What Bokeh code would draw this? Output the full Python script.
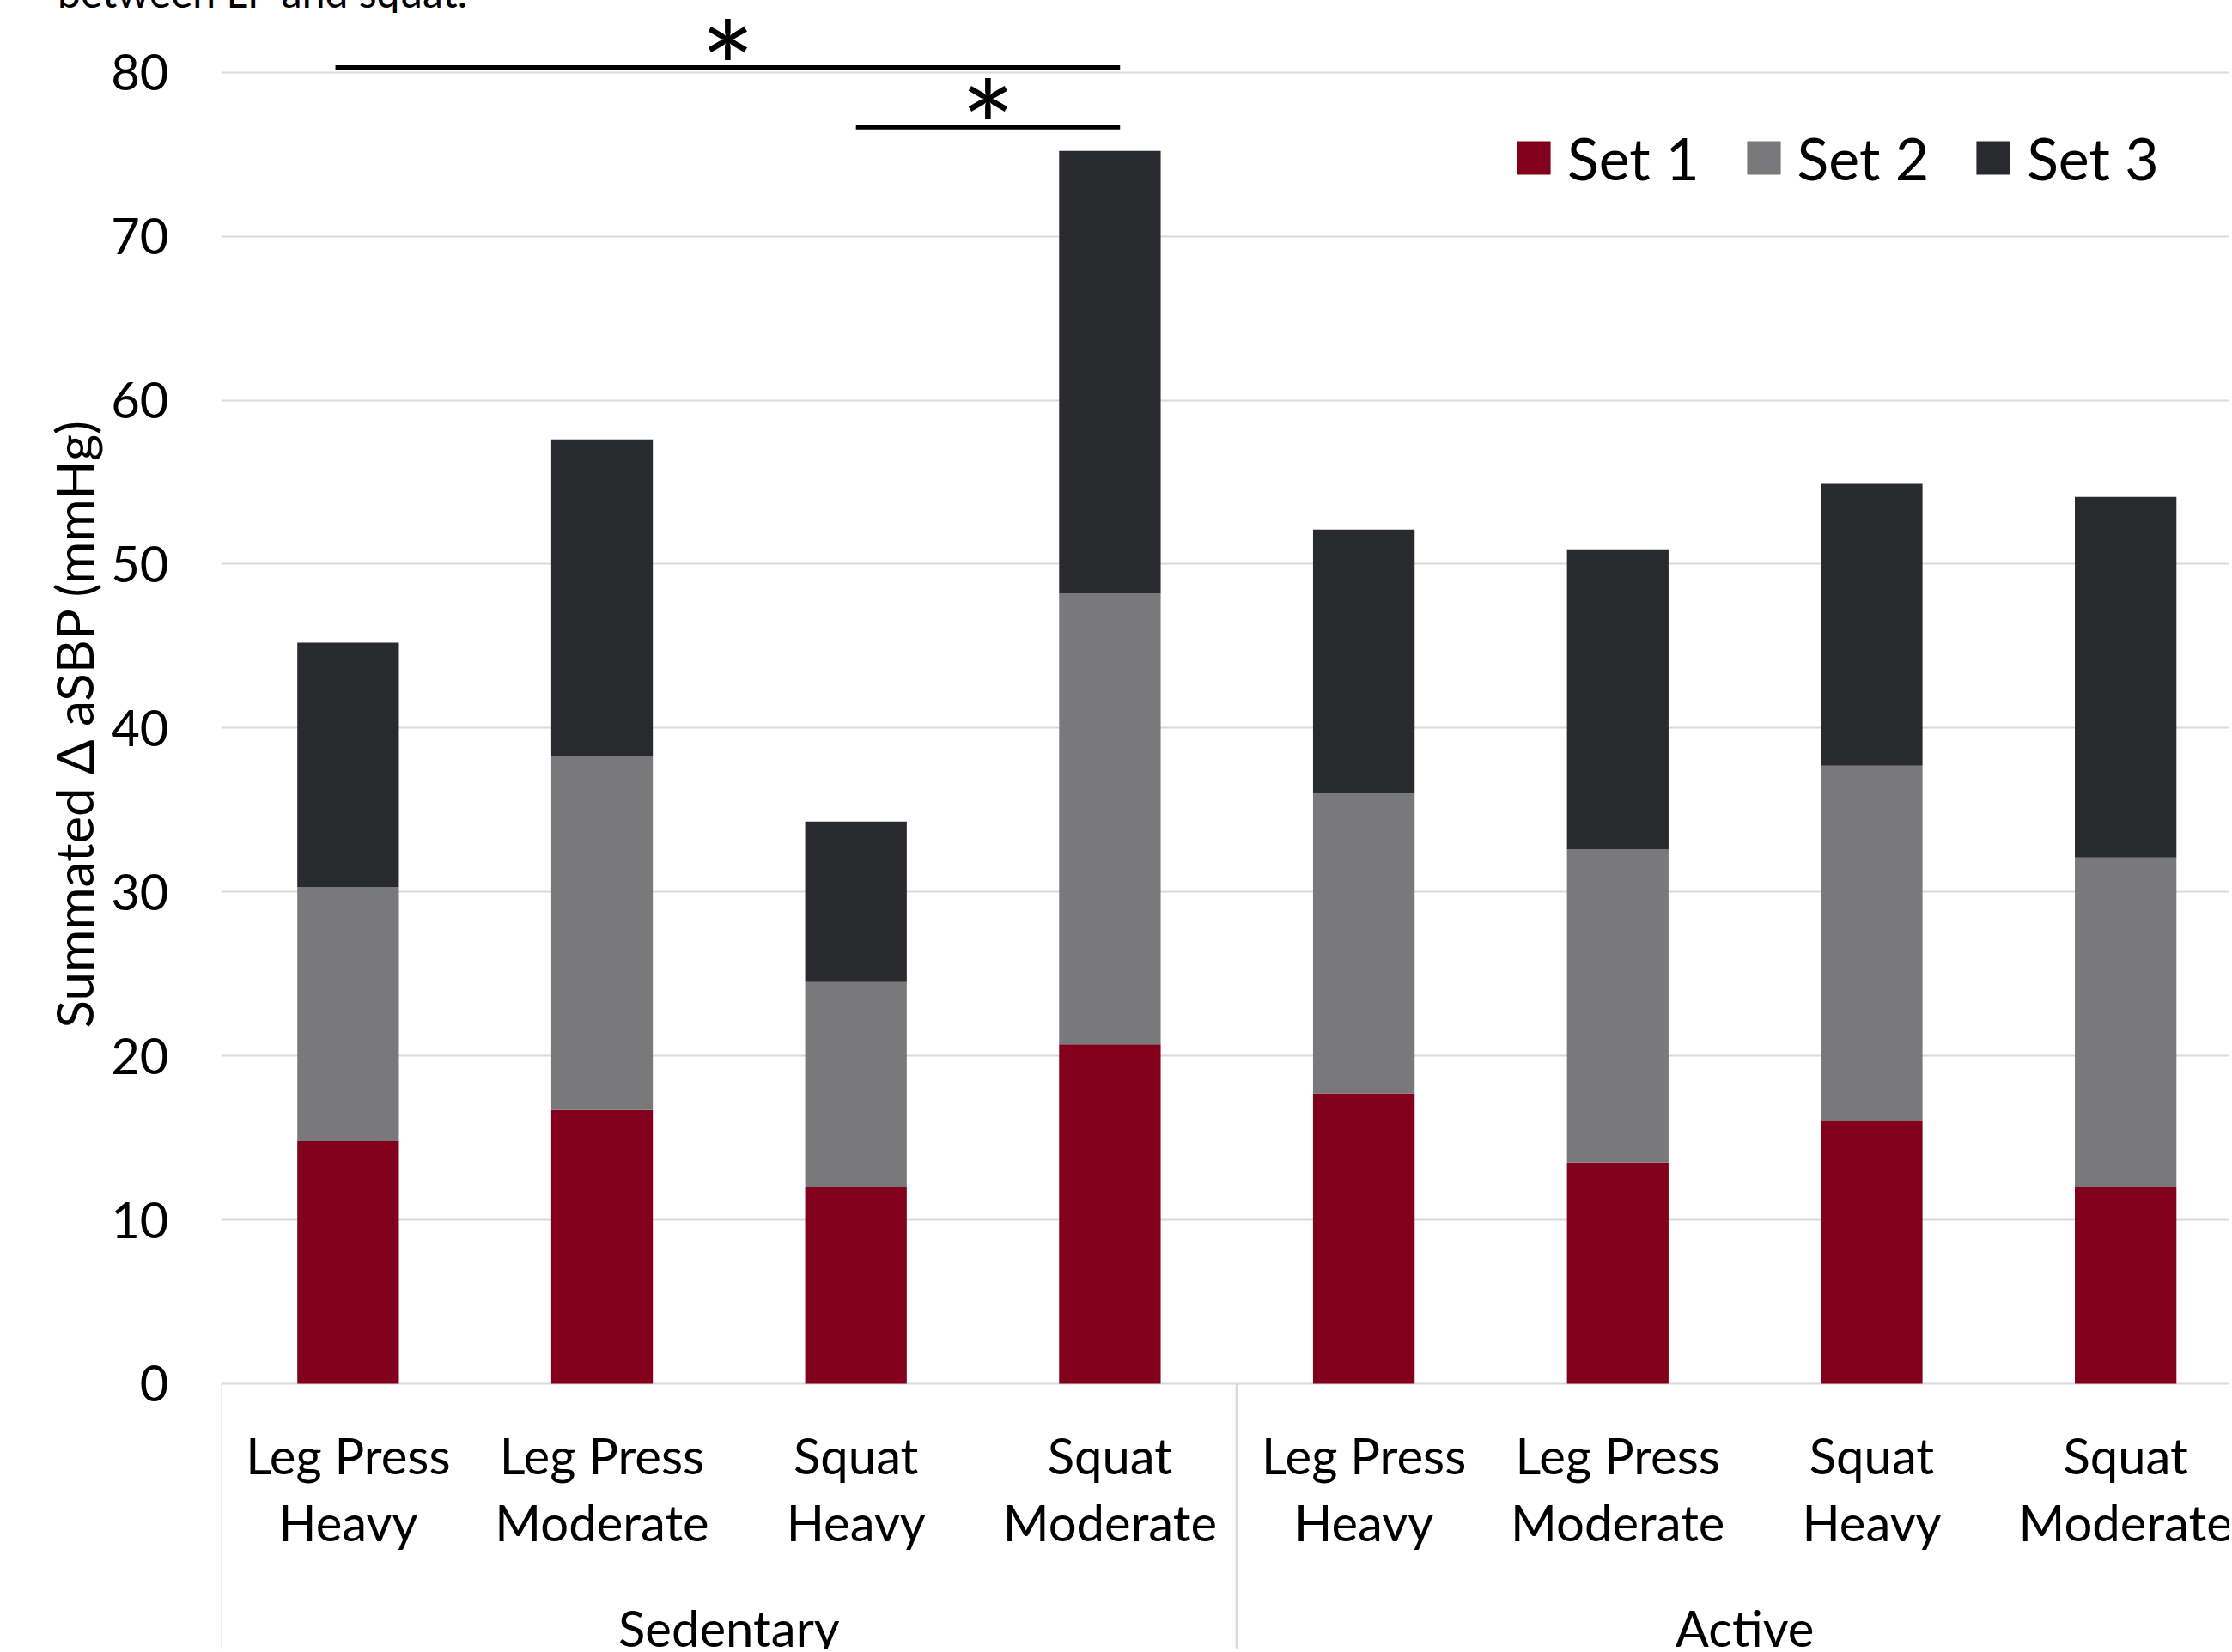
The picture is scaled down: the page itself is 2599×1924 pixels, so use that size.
import math
from bokeh.plotting import figure
from bokeh.models import Range1d, FixedTicker, ColumnDataSource, Legend, Title, Div
from bokeh.layouts import column
from bokeh.core.properties import value
from bokeh.embed import file_html
from bokeh.resources import INLINE

# ---- data ----
groups = ["Sedentary"] * 4 + ["Active"] * 4
exercises = ["Leg Press", "Leg Press", "Squat", "Squat"] * 2
loads = ["Heavy", "Moderate", "Heavy", "Moderate"] * 2
set1 = [14.8, 16.7, 12.0, 20.7, 17.7, 13.5, 16.0, 12.0]
set2 = [15.5, 21.6, 12.5, 27.5, 18.3, 19.1, 21.7, 20.1]
set3 = [14.9, 19.3, 9.8, 27.0, 16.1, 18.3, 17.2, 22.0]
series_names = ["Set 1", "Set 2", "Set 3"]
colors = ["#83001c", "#79797b", "#292a2e"]
y_ticks = [0, 10, 20, 30, 40, 50, 60, 70, 80]
# significance brackets (start, end in category units, height)
sig_x0 = [0.45, 2.5]
sig_x1 = [3.54, 3.54]
sig_y = [80.3, 76.65]
sig_text = ["*", "*"]
y_title = "Summated \u0394 aSBP (mmHg)"
caption_fragment = "between LP and squat."

FONT = "Lato"

n = len(set1)
xpos = [i + 0.5 for i in range(n)]
src = ColumnDataSource(dict(x=xpos, set1=set1, set2=set2, set3=set3,
                            ex=exercises, ld=loads))

W, H = 2595, 1905
p = figure(width=W, height=H, output_backend="svg", toolbar_location=None,
           x_range=Range1d(0, 7.907), y_range=Range1d(-16.19, 83.60),
           min_border_left=257, min_border_right=0, min_border_top=0,
           min_border_bottom=0, margin=0)
p.background_fill_color = "white"
p.border_fill_color = "white"
p.outline_line_color = None
p.xaxis.visible = False
p.xgrid.visible = False

p.yaxis.ticker = FixedTicker(ticks=y_ticks)
p.ygrid.ticker = FixedTicker(ticks=y_ticks)
p.ygrid.grid_line_color = "#d9d9d9"
p.ygrid.grid_line_width = 2
p.yaxis.axis_line_color = None
p.yaxis.major_tick_line_color = None
p.yaxis.minor_tick_line_color = None
p.yaxis.major_tick_out = 0
p.yaxis.major_tick_in = 0
p.yaxis.major_label_standoff = 61
p.yaxis.major_label_text_font = FONT
p.yaxis.major_label_text_font_size = "58px"
p.yaxis.major_label_text_color = "black"

# y-axis title (left side)
p.add_layout(Title(text=y_title, align="left", offset=723, text_font=FONT,
                   text_font_size="60px", text_font_style="normal",
                   text_color="black"), "left")

rs = p.vbar_stack(["set1", "set2", "set3"], x="x", width=0.4, source=src,
                  color=colors, line_color=None)

# category separators below zero line
bounds = [i for i in range(n) if i == 0 or groups[i] != groups[i - 1]]
p.segment(x0=bounds, x1=bounds, y0=[0] * len(bounds), y1=[-16.5] * len(bounds),
          line_color="#d9d9d9", line_width=3)

# category labels
p.text(x="x", y=-4.35, text="ex", source=src, text_font=value(FONT),
       text_font_size="58px", text_align="center", text_baseline="middle",
       text_color="black")
p.text(x="x", y=-8.45, text="ld", source=src, text_font=value(FONT),
       text_font_size="58px", text_align="center", text_baseline="middle",
       text_color="black")
gnames = []
gx = []
for g in dict.fromkeys(groups):
    idx = [i for i in range(n) if groups[i] == g]
    gnames.append(g)
    gx.append(sum(xpos[i] for i in idx) / len(idx))
p.text(x=gx, y=[-14.9] * len(gx), text=gnames, text_font=value(FONT),
       text_font_size="58px", text_align="center", text_baseline="middle",
       text_color="black")

# significance brackets
p.segment(x0=sig_x0, x1=sig_x1, y0=sig_y, y1=sig_y, line_color="black",
          line_width=5)
star_x = [(a + b) / 2 for a, b in zip(sig_x0, sig_x1)]
star_y = [y + 0.1 for y in sig_y]
p.text(x=star_x, y=star_y, text=sig_text, text_font=value(FONT),
       text_font_size="150px", text_align="center",
       text_baseline="alphabetic", text_color="black")

legend = Legend(items=[(name, [r]) for name, r in zip(series_names, rs)],
                orientation="horizontal", location=(1504, 1696),
                glyph_width=49, glyph_height=49, label_standoff=15,
                spacing=50, padding=0, margin=0,
                label_text_font=FONT, label_text_font_size="68px",
                label_text_color="black", border_line_color=None,
                background_fill_alpha=0)
p.add_layout(legend)

# cut-off caption fragment above the chart
cap = Div(text=('<div style="position:relative; top:-33px; left:67px; '
                'font-family:Lato; font-size:48px; line-height:48px; '
                'white-space:nowrap; color:black;">' + caption_fragment + '</div>'),
          width=W, height=15, margin=0, styles={"overflow": "hidden"})

layout = column(cap, p, spacing=0)
open("out.html", "w").write(file_html(layout, INLINE))
